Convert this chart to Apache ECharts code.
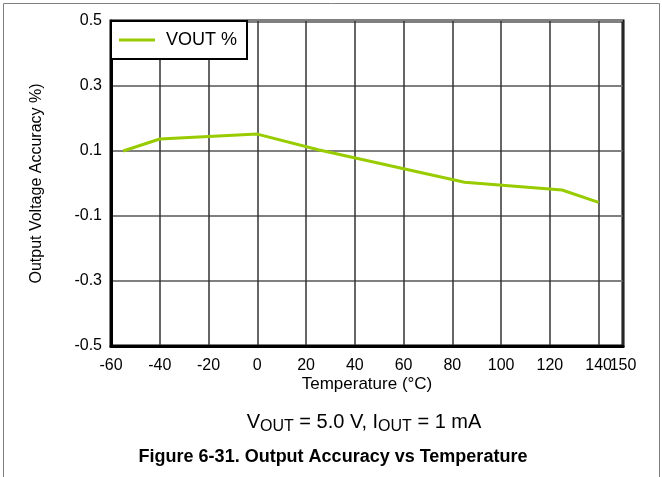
<!DOCTYPE html>
<html>
<head>
<meta charset="utf-8">
<script src="https://cdn.jsdelivr.net/npm/echarts@6/dist/echarts.min.js"></script>
<style>
html,body{margin:0;padding:0;background:#fff;}
#chart{width:662px;height:477px;}
</style>
</head>
<body>
<div id="chart"></div>
<script>
// Data
var temperatures = [-55, -40, 0, 25, 85, 125, 140];
var voutAccuracy = [0.100, 0.137, 0.152, 0.104, 0.004, -0.020, -0.058];
var seriesName = 'VOUT %';
var xTicks = [-60, -40, -20, 0, 20, 40, 60, 80, 100, 120, 140];
var xEndTick = [150];
var yTicks = [-0.5, -0.3, -0.1, 0.1, 0.3, 0.5];

var FONT = 'Liberation Sans, Arial, Helvetica, sans-serif';
var chart = echarts.init(document.getElementById('chart'), null, {renderer: 'canvas'});

var xLabelStyle = {fontFamily: FONT, fontSize: 16, color: '#000', margin: 12, hideOverlap: false};

var option = {
  animation: false,
  backgroundColor: '#fff',
  textStyle: {fontFamily: FONT},
  graphic: [{
    type: 'polyline',
    shape: {points: [[3.5, 477], [3.5, 3.5], [659.5, 3.5], [659.5, 477]]},
    style: {stroke: '#808080', lineWidth: 1, fill: null},
    z: 0
  }],
  title: [{
    text: 'V{sub|OUT} = 5.0 V, I{sub|OUT} = 1 mA',
    left: 359, top: 405, textAlign: 'center',
    textStyle: {
      fontFamily: FONT, fontSize: 20, fontWeight: 'normal', color: '#000',
      rich: {sub: {fontFamily: FONT, fontSize: 16, color: '#000', verticalAlign: 'bottom', padding: [9, 0, 0, 0]}}
    }
  }, {
    text: 'Figure 6-31. Output Accuracy vs Temperature',
    left: 328, top: 443, textAlign: 'center',
    textStyle: {fontFamily: FONT, fontSize: 18, fontWeight: 'bold', color: '#000'}
  }],
  legend: {
    left: 111, top: 21,
    data: [seriesName],
    icon: 'rect', itemWidth: 36, itemHeight: 3,
    borderColor: '#000', borderWidth: 2, backgroundColor: '#fff',
    padding: [10, 10, 10, 8],
    textStyle: {fontFamily: FONT, fontSize: 18, color: '#000', padding: [0, 0, 0, 6]},
    z: 10
  },
  grid: {
    left: 111, right: 39, top: 21, bottom: 131,
    show: true, borderColor: '#000', borderWidth: 3, backgroundColor: 'transparent'
  },
  xAxis: [{
    type: 'value', position: 'bottom', min: xTicks[0], max: xEndTick[0], interval: 20,
    name: 'Temperature (°C)', nameLocation: 'middle', nameGap: 30, nameMoveOverlap: false,
    nameTextStyle: {fontFamily: FONT, fontSize: 17, color: '#000'},
    axisLine: {show: true, onZero: false, lineStyle: {color: '#000', width: 3}},
    axisTick: {show: false},
    axisLabel: Object.assign({customValues: xTicks, showMaxLabel: true}, xLabelStyle),
    splitLine: {show: true, lineStyle: {color: '#333', width: 1.5}}
  }, {
    type: 'value', position: 'bottom', offset: 0, min: xTicks[0], max: xEndTick[0], interval: 20,
    axisLine: {show: false, onZero: false},
    axisTick: {show: false},
    axisLabel: Object.assign({customValues: xEndTick, showMaxLabel: true}, xLabelStyle),
    splitLine: {show: false}
  }],
  yAxis: {
    type: 'value', min: yTicks[0], max: yTicks[yTicks.length - 1], interval: 0.2,
    name: 'Output Voltage Accuracy %)', nameLocation: 'middle', nameGap: 66, nameRotate: 90,
    nameTextStyle: {fontFamily: FONT, fontSize: 16, color: '#000'},
    axisLine: {show: true, onZero: false, lineStyle: {color: '#000', width: 3}},
    axisTick: {show: false},
    axisLabel: {fontFamily: FONT, fontSize: 16, color: '#000', margin: 9,
      formatter: function (v) { return (Math.round(v * 10) / 10).toFixed(1); }},
    splitLine: {show: true, lineStyle: {color: '#808080', width: 2}}
  },
  series: [{
    name: seriesName,
    type: 'line',
    xAxisIndex: 0,
    data: temperatures.map(function (t, i) { return [t, voutAccuracy[i]]; }),
    symbol: 'none',
    lineStyle: {color: '#99cc00', width: 3},
    itemStyle: {color: '#99cc00'},
    z: 5
  }]
};
chart.setOption(option);
</script>
</body>
</html>
